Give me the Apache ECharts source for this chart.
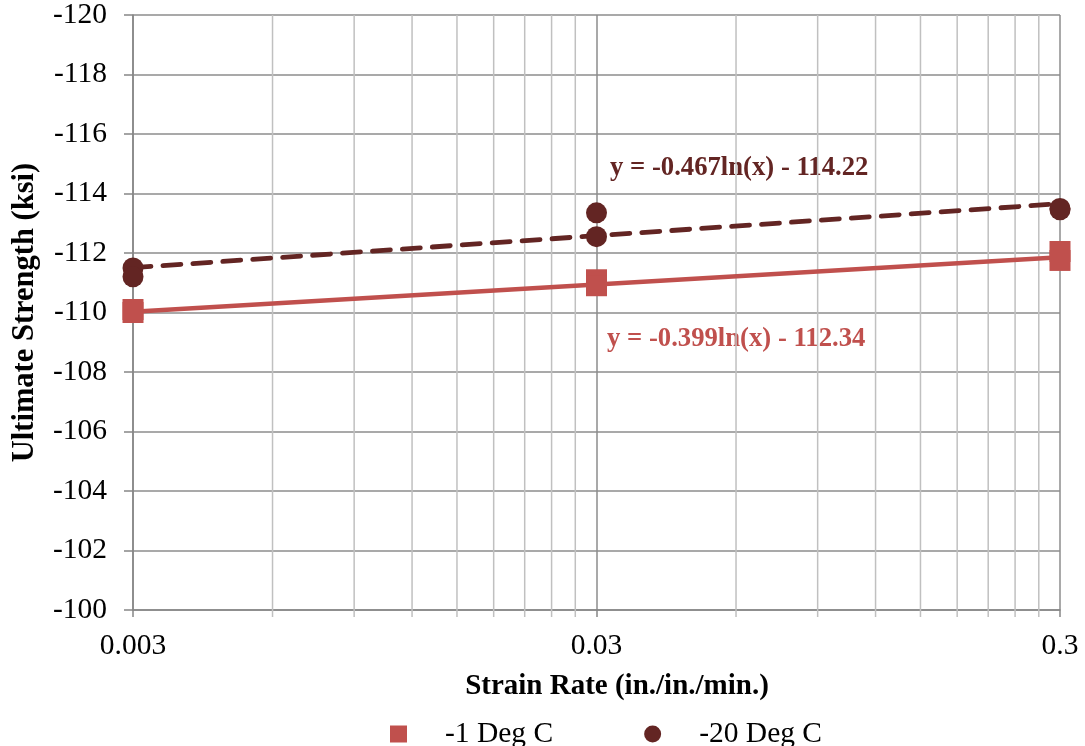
<!DOCTYPE html>
<html>
<head>
<meta charset="utf-8">
<title>Ultimate Strength vs Strain Rate</title>
<script src="https://cdn.jsdelivr.net/npm/echarts@6/dist/echarts.min.js"></script>
<style>
  html, body { margin: 0; padding: 0; background: #ffffff; }
  #chart { width: 1085px; height: 746px; }
</style>
</head>
<body>
<div id="chart"></div>
<script>
// Strain rates (in./in./min.) and measured ultimate strengths (ksi)
const rateMinus1 = [0.003, 0.003, 0.03, 0.03, 0.3, 0.3];
const strengthMinus1 = [-110.1, -110.0, -111.1, -110.9, -112.05, -111.75];

const rateMinus20 = [0.003, 0.003, 0.03, 0.03, 0.3, 0.3];
const strengthMinus20 = [-111.5, -111.2, -113.35, -112.55, -113.5, -113.45];

// Logarithmic trendlines y = a*ln(x) + b, as stated in their labels
const seriesNames = ['-1 Deg C', '-20 Deg C'];
const trendSlope = [-0.399, -0.467];
const trendIntercept = [-112.34, -114.22];
const trendLabels = ['y = -0.399ln(x) - 112.34', 'y = -0.467ln(x) - 114.22'];

// Axis range and tick labels
const xTickLabels = ['0.003', '0.03', '0.3'];
const xMin = 0.003;
const xMax = 0.3;
const yMin = -120;
const yMax = -100;

const RED = '#C0504D';
const DARK = '#632523';
const FONT = '"Liberation Serif", "Times New Roman", serif';

// The x axis is drawn in decades above 0.003 (log10 scale)
const toDecade = v => Math.log10(v / xMin);
const decadeSpan = toDecade(xMax);

const pairs = (xs, ys) => xs.map((x, i) => [toDecade(x), ys[i]]);

const trendData = k => [xMin, xMax].map(x => [toDecade(x), trendSlope[k] * Math.log(x) + trendIntercept[k]]);

// Minor log gridlines at 2..9 times each decade start
const minorLines = [];
for (let d = 0; d < decadeSpan; d++) {
  for (let m = 2; m <= 9; m++) minorLines.push([d + Math.log10(m), yMax]);
}

const chart = echarts.init(document.getElementById('chart'), null, { renderer: 'canvas' });

const option = {
  animation: false,
  backgroundColor: '#ffffff',
  textStyle: { fontFamily: FONT },
  grid: { left: 133, right: 25, top: 14, bottom: 136, containLabel: false },
  xAxis: {
    type: 'value',
    min: 0,
    max: decadeSpan,
    interval: 1,
    name: 'Strain Rate (in./in./min.)',
    nameLocation: 'middle',
    nameGap: 62,
    nameTextStyle: { fontFamily: FONT, fontWeight: 'bold', fontSize: 29, color: '#000', padding: [0, 0, 0, 41] },
    axisLine: { show: true, lineStyle: { color: '#868686', width: 1.5 } },
    axisTick: { show: true, inside: false, length: 7, lineStyle: { color: '#868686', width: 1.5 } },
    axisLabel: {
      margin: 21,
      fontFamily: FONT,
      fontSize: 29.5,
      color: '#000',
      formatter: v => xTickLabels[Math.round(v)] ?? ''
    },
    splitLine: { show: true, lineStyle: { color: '#8c8c8c', width: 1.5 } }
  },
  yAxis: {
    type: 'value',
    inverse: true,
    min: yMin,
    max: yMax,
    interval: 2,
    name: 'Ultimate Strength (ksi)',
    nameLocation: 'middle',
    nameGap: 92,
    nameRotate: 90,
    nameTextStyle: { fontFamily: FONT, fontWeight: 'bold', fontSize: 30.5, color: '#000' },
    axisLine: { show: true, lineStyle: { color: '#868686', width: 1.5 } },
    axisTick: { show: true, inside: false, length: 9, lineStyle: { color: '#868686', width: 1.5 } },
    axisLabel: { margin: 26, fontFamily: FONT, fontSize: 29.5, color: '#000' },
    splitLine: { show: true, lineStyle: { color: '#8c8c8c', width: 1.5 } }
  },
  legend: {
    data: [
      { name: seriesNames[0], icon: 'rect' },
      { name: seriesNames[1], icon: 'circle' }
    ],
    left: 390,
    top: 719,
    padding: 0,
    itemWidth: 17,
    itemHeight: 17,
    itemGap: 91,
    itemStyle: { opacity: 1 },
    textStyle: { fontFamily: FONT, fontSize: 29.5, color: '#000', padding: [0, 0, 0, 33] }
  },
  graphic: [
    {
      type: 'text', left: 610, top: 155, silent: true,
      style: { text: trendLabels[1], fill: DARK, font: 'bold 26.7px ' + FONT }
    },
    {
      type: 'text', left: 607, top: 326, silent: true,
      style: { text: trendLabels[0], fill: RED, font: 'bold 26.7px ' + FONT }
    }
  ],
  series: [
    {
      // minor log gridlines with their outside ticks
      type: 'custom',
      silent: true,
      z: 1,
      clip: false,
      data: minorLines,
      renderItem: (params, api) => {
        const top = api.coord([api.value(0), yMin]);
        const bottom = api.coord([api.value(0), yMax]);
        return {
          type: 'line',
          shape: { x1: top[0], y1: top[1], x2: bottom[0], y2: bottom[1] + 7 },
          style: { stroke: '#c0c0c0', lineWidth: 1.5 }
        };
      }
    },
    {
      name: 'trend ' + seriesNames[0],
      type: 'line',
      data: trendData(0),
      showSymbol: false,
      silent: true,
      z: 3,
      lineStyle: { color: RED, width: 4.5 }
    },
    {
      name: 'trend ' + seriesNames[1],
      type: 'line',
      data: trendData(1),
      showSymbol: false,
      silent: true,
      z: 3,
      lineStyle: { color: DARK, width: 4.8, type: [18, 12], cap: 'round' }
    },
    {
      name: seriesNames[0],
      type: 'scatter',
      symbol: 'rect',
      symbolSize: 21,
      z: 4,
      itemStyle: { color: RED, opacity: 1 },
      data: pairs(rateMinus1, strengthMinus1)
    },
    {
      name: seriesNames[1],
      type: 'scatter',
      symbol: 'circle',
      symbolSize: 21,
      z: 5,
      itemStyle: { color: DARK, opacity: 1 },
      data: pairs(rateMinus20, strengthMinus20)
    }
  ]
};

chart.setOption(option);
</script>
</body>
</html>
